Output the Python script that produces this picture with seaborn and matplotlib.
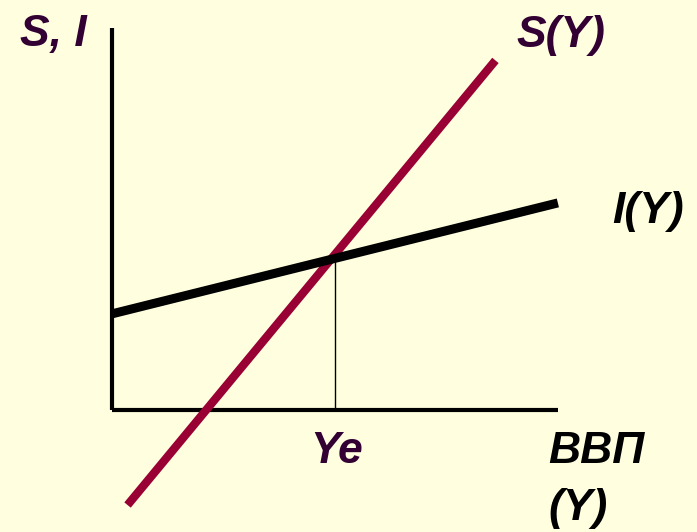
import numpy as np
import pandas as pd
import matplotlib
matplotlib.use("Agg")
import matplotlib.pyplot as plt
import seaborn as sns

# Keynesian cross: savings S(Y) and investment I(Y) against output
gdp = [0.35, 8.6]
saving = [-2.5, 9.2]
gdp_inv = [0.0, 10.0]
investment = [2.53, 5.45]
y_eq = 5.0

bg = "#FFFFE0"
red = "#990033"
purple = "#330033"

sns.set_style("white")
plt.rcParams["font.family"] = ["Liberation Sans", "DejaVu Sans"]

fig = plt.figure(figsize=(6.97, 5.32), dpi=100, facecolor=bg)
ax = fig.add_axes([0, 0, 1, 1])
ax.set_facecolor(bg)
ax.set_xlim(-2.51, 13.12)
ax.set_ylim(-3.21, 10.79)
ax.axis("off")

# equilibrium level where the two lines cross
s_eq = float(np.interp(y_eq, gdp, saving))
i_eq = float(np.interp(y_eq, gdp_inv, investment))

# axes drawn as lines
ax.plot([0, 0], [0, 10.05], color="black", lw=3, solid_capstyle="butt")
ax.plot([0, 10], [0, 0], color="black", lw=3, solid_capstyle="butt")
ax.plot([y_eq, y_eq], [0, max(s_eq, i_eq) + 0.15], color="black", lw=1)

df_s = pd.DataFrame({"Y": gdp, "S": saving})
df_i = pd.DataFrame({"Y": gdp_inv, "I": investment})
sns.lineplot(data=df_s, x="Y", y="S", ax=ax, color=red, lw=6, solid_capstyle="butt")
sns.lineplot(data=df_i, x="Y", y="I", ax=ax, color="black", lw=6.5, solid_capstyle="butt")

font = dict(fontsize=32, fontweight="bold", fontstyle="italic", va="baseline")
ax.text(-2.06, 9.58, "S, I", color=purple, ha="left", **font)
ax.text(9.08, 9.55, "S(Y)", color=purple, ha="left", **font)
ax.text(11.21, 4.92, "I(Y)", color="black", ha="left", **font)
ax.text(y_eq + 0.04, -1.39, "Ye", color=purple, ha="center", **font)
ax.text(9.78, -1.39, "ВВП", color="black", ha="left", **font)
ax.text(9.78, -2.89, "(Y)", color="black", ha="left", **font)

fig.savefig("out.png", dpi=100, facecolor=bg)
